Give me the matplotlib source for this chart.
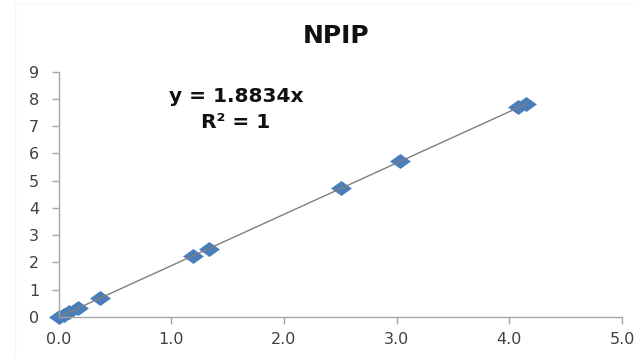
import numpy as np
import matplotlib
matplotlib.use('Agg')
import matplotlib.pyplot as plt
from matplotlib.path import Path
from matplotlib.lines import Line2D

plt.rcParams['font.family'] = ['DejaVu Sans']

# data
conc = [0.0, 0.05, 0.09, 0.17, 0.37, 1.19, 1.33, 2.51, 3.03, 4.08, 4.15]
area = [0.0, 0.09, 0.17, 0.32, 0.70, 2.25, 2.51, 4.73, 5.71, 7.69, 7.81]
slope = 1.8834
eq_text = 'y = 1.8834x'
r2_text = 'R² = 1'
title = 'NPIP'
xticks = [0.0, 1.0, 2.0, 3.0, 4.0, 5.0]
yticks = list(range(0, 10))

# squashed diamond like the excel one
diamond = Path([(-1, 0), (0, 0.72), (1, 0), (0, -0.72), (-1, 0)],
               [Path.MOVETO, Path.LINETO, Path.LINETO, Path.LINETO, Path.CLOSEPOLY])

fig = plt.figure(figsize=(6.34, 3.56), dpi=100)
ax = fig.add_axes([58.7 / 634, 1 - 317 / 356, (622 - 58.7) / 634, (317 - 71.7) / 356])

xs = np.array([0, max(conc)])
ax.plot(xs, slope * xs, color='#7f7f7f', lw=1.0, zorder=3, clip_on=False)
ax.plot(conc, area, linestyle='none', marker=diamond, markersize=15,
        color='#4a7ebb', markeredgewidth=0, zorder=2, clip_on=False)

ax.set_xlim(0, 5)
ax.set_ylim(0, 9)
ax.set_xticks(xticks)
ax.set_xticklabels([f'{t:.1f}' for t in xticks])
ax.set_yticks(yticks)

for s in ['top', 'right']:
    ax.spines[s].set_visible(False)
for s in ['left', 'bottom']:
    ax.spines[s].set_color('#a6a6a6')
    ax.spines[s].set_linewidth(1.0)
ax.tick_params(axis='both', colors='#a6a6a6', labelcolor='#404040',
               labelsize=11.5, length=5, width=1.0, direction='out')
ax.tick_params(axis='x', pad=6)
ax.tick_params(axis='y', pad=9)

fig.text(336 / 634, 1 - 36 / 356, title, ha='center', va='center',
         fontsize=18, fontweight='bold', color='#111111')
fig.text(236 / 634, 1 - 96 / 356, eq_text, ha='center', va='center',
         fontsize=14.5, fontweight='bold', color='#111111')
fig.text(236 / 634, 1 - 123 / 356, r2_text, ha='center', va='center',
         fontsize=14.5, fontweight='bold', color='#111111')

# faint chart-area border
fig.add_artist(Line2D([15 / 634, 15 / 634], [0, 1 - 3 / 356], color='#f6f6f6', lw=1))
fig.add_artist(Line2D([15 / 634, 1], [1 - 3 / 356, 1 - 3 / 356], color='#f6f6f6', lw=1))

fig.savefig('out.png', dpi=100)
